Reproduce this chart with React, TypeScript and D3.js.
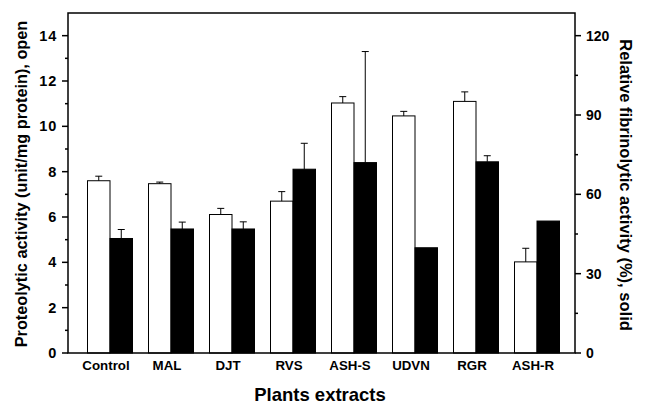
import React from "react";
import * as d3 from "d3";

const categories = ["Control", "MAL", "DJT", "RVS", "ASH-S", "UDVN", "RGR", "ASH-R"];
// proteolytic activity (unit/mg protein), open bars, left axis
const proteolytic = [7.6, 7.47, 6.11, 6.7, 11.03, 10.46, 11.1, 4.02];
const proteolyticErr = [0.2, 0.07, 0.27, 0.42, 0.28, 0.2, 0.42, 0.6];
// relative fibrinolytic activity (%), solid bars, right axis
const fibrinolytic = [43.3, 46.9, 46.9, 69.5, 72.0, 39.8, 72.3, 49.9];
const fibrinolyticErr = [3.4, 2.6, 2.7, 9.8, 42.0, 0, 2.3, 0];
const leftTicks = [0, 2, 4, 6, 8, 10, 12, 14];
const rightTicks = [0, 30, 60, 90, 120];

const W = 645;
const H = 405;
const m = { left: 68, right: 575, top: 13, bottom: 353 };

export default function App() {
  const x = d3.scalePoint<string>().domain(categories).range([m.left + 42, m.right - 38]);
  const yL = d3.scaleLinear().domain([0, 15]).range([m.bottom, m.top]);
  const yR = d3.scaleLinear().domain([0, 15 * 120 / 14]).range([m.bottom, m.top]);
  const bw = 22.5;
  const cap = 3.5;
  const font = "'Liberation Sans', Arial, sans-serif";

  const leftMinor = d3.range(1, 15, 2);
  const rightMinor = d3.range(15, 128, 30);

  return (
    <svg width={W} height={H} style={{ position: "absolute", left: 0, top: 0 }} fontFamily={font}>
      <rect width={W} height={H} fill="#fff" />
      {categories.map((c, i) => {
        const cx = x(c)!;
        const y1 = yL(proteolytic[i]);
        const y2 = yR(fibrinolytic[i]);
        const e1 = yL(proteolytic[i] + proteolyticErr[i]);
        const e2 = yR(fibrinolytic[i] + fibrinolyticErr[i]);
        return (
          <g key={c}>
            <rect x={cx - bw} y={y1} width={bw} height={m.bottom - y1} fill="#fff" stroke="#000" strokeWidth={1} />
            {proteolyticErr[i] > 0 && (
              <g stroke="#000" strokeWidth={1}>
                <line x1={cx - bw / 2} x2={cx - bw / 2} y1={y1} y2={e1} />
                <line x1={cx - bw / 2 - cap} x2={cx - bw / 2 + cap} y1={e1} y2={e1} />
              </g>
            )}
            <rect x={cx} y={y2} width={bw} height={m.bottom - y2} fill="#000" stroke="#000" strokeWidth={1} />
            {fibrinolyticErr[i] > 0 && (
              <g stroke="#000" strokeWidth={1}>
                <line x1={cx + bw / 2} x2={cx + bw / 2} y1={y2} y2={e2} />
                <line x1={cx + bw / 2 - cap} x2={cx + bw / 2 + cap} y1={e2} y2={e2} />
              </g>
            )}
            <text x={cx - 4} y={370} textAnchor="middle" fontSize={13.3} fontWeight="bold">{c}</text>
          </g>
        );
      })}

      <rect x={m.left} y={m.top} width={m.right - m.left} height={m.bottom - m.top} fill="none" stroke="#000" strokeWidth={1.5} />

      {leftTicks.map((t) => (
        <g key={"l" + t}>
          <line x1={m.left - 6} x2={m.left} y1={yL(t)} y2={yL(t)} stroke="#000" strokeWidth={1.5} />
          <text x={m.left - 11} y={yL(t) + 5} textAnchor="end" fontSize={14.5} fontWeight="bold" letterSpacing={0.8}>{t}</text>
        </g>
      ))}
      {leftMinor.map((t) => (
        <line key={"lm" + t} x1={m.left - 3} x2={m.left} y1={yL(t)} y2={yL(t)} stroke="#000" strokeWidth={1.5} />
      ))}
      {rightTicks.map((t) => (
        <g key={"r" + t}>
          <line x1={m.right} x2={m.right + 6} y1={yR(t)} y2={yR(t)} stroke="#000" strokeWidth={1.5} />
          <text x={m.right + 11} y={yR(t) + 5} textAnchor="start" fontSize={14} fontWeight="bold">{t}</text>
        </g>
      ))}
      {rightMinor.map((t) => (
        <line key={"rm" + t} x1={m.right} x2={m.right + 3} y1={yR(t)} y2={yR(t)} stroke="#000" strokeWidth={1.5} />
      ))}

      <text transform="translate(27,184) rotate(-90)" textAnchor="middle" fontSize={16.3} fontWeight="bold">
        Proteolytic activity (unit/mg protein), open
      </text>
      <text transform="translate(620,185) rotate(90)" textAnchor="middle" fontSize={16.5} fontWeight="bold">
        Relative fibrinolytic activity (%), solid
      </text>
      <text x={320} y={401} textAnchor="middle" fontSize={18.5} fontWeight="bold">Plants extracts</text>
    </svg>
  );
}
